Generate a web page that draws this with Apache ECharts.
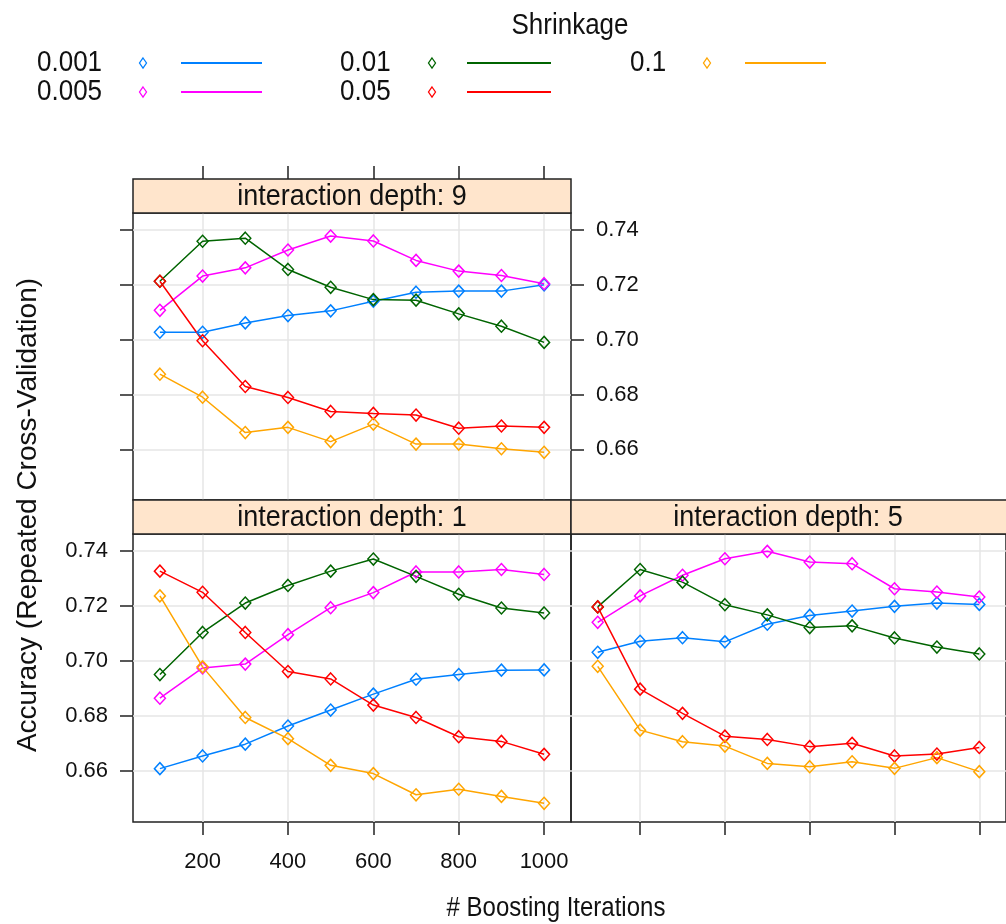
<!DOCTYPE html>
<html>
<head>
<meta charset="utf-8">
<script src="https://cdn.jsdelivr.net/npm/echarts@6.0.0/dist/echarts.min.js"></script>
<style>
  html, body { margin: 0; padding: 0; background: #fff; }
  #chart { width: 1006px; height: 924px; }
</style>
</head>
<body>
<div id="chart"></div>
<script>
// boosting iterations (x) and axis ticks
const iterations = [100, 200, 300, 400, 500, 600, 700, 800, 900, 1000];
const xTicks = [200, 400, 600, 800, 1000];
const yTicks = [0.66, 0.68, 0.70, 0.72, 0.74];

const shrinkage = ['0.001', '0.005', '0.01', '0.05', '0.1'];
const shrinkColors = ['#0080ff', '#ff00ff', '#006400', '#ff0000', '#ffa500'];

// interaction depth: 9
const depth9_0001 = [0.7027, 0.7027, 0.7061, 0.7088, 0.7105, 0.7140, 0.7173, 0.7177, 0.7177, 0.7200];
const depth9_0005 = [0.7107, 0.7232, 0.7262, 0.7327, 0.7378, 0.7360, 0.7289, 0.7250, 0.7234, 0.7204];
const depth9_001  = [0.7213, 0.7359, 0.7370, 0.7256, 0.7191, 0.7146, 0.7144, 0.7094, 0.7049, 0.6990];
const depth9_005  = [0.7213, 0.6996, 0.6829, 0.6789, 0.6738, 0.6731, 0.6725, 0.6677, 0.6685, 0.6680];
const depth9_01   = [0.6874, 0.6790, 0.6661, 0.6680, 0.6628, 0.6692, 0.6619, 0.6619, 0.6602, 0.6589];

// interaction depth: 1
const depth1_0001 = [0.6609, 0.6655, 0.6698, 0.6764, 0.6822, 0.6880, 0.6934, 0.6951, 0.6967, 0.6968];
const depth1_0005 = [0.6865, 0.6975, 0.6989, 0.7096, 0.7194, 0.7249, 0.7324, 0.7324, 0.7333, 0.7315];
const depth1_001  = [0.6951, 0.7104, 0.7211, 0.7275, 0.7327, 0.7371, 0.7308, 0.7243, 0.7193, 0.7175];
const depth1_005  = [0.7327, 0.7250, 0.7104, 0.6962, 0.6935, 0.6840, 0.6795, 0.6725, 0.6708, 0.6661];
const depth1_01   = [0.7237, 0.6979, 0.6795, 0.6718, 0.6621, 0.6591, 0.6514, 0.6534, 0.6508, 0.6483];

// interaction depth: 5
const depth5_0001 = [0.7032, 0.7072, 0.7085, 0.7070, 0.7134, 0.7166, 0.7182, 0.7199, 0.7211, 0.7206];
const depth5_0005 = [0.7141, 0.7237, 0.7312, 0.7372, 0.7399, 0.7360, 0.7354, 0.7263, 0.7251, 0.7233];
const depth5_001  = [0.7197, 0.7333, 0.7287, 0.7205, 0.7168, 0.7122, 0.7128, 0.7084, 0.7051, 0.7026];
const depth5_005  = [0.7197, 0.6898, 0.6810, 0.6727, 0.6715, 0.6689, 0.6701, 0.6655, 0.6662, 0.6686];
const depth5_01   = [0.6981, 0.6749, 0.6707, 0.6691, 0.6628, 0.6616, 0.6634, 0.6610, 0.6649, 0.6598];

const panels = [
  { label: 'interaction depth: 9', values: [depth9_0001, depth9_0005, depth9_001, depth9_005, depth9_01] },
  { label: 'interaction depth: 1', values: [depth1_0001, depth1_0005, depth1_001, depth1_005, depth1_01] },
  { label: 'interaction depth: 5', values: [depth5_0001, depth5_0005, depth5_001, depth5_005, depth5_01] }
];

const font = "'Liberation Sans', Arial, sans-serif";
const xRange = [37, 1063];
const yRange = [0.6415, 0.7462];
const stripH = 34;
const textStretch = 1.12; // the picture's text is a little taller than wide
const boxes = [
  { left: 133, top: 213, width: 438, height: 287 },
  { left: 133, top: 534, width: 438, height: 288 },
  { left: 571, top: 534, width: 438, height: 288 }
];

const tickStyle = { show: true, inside: false, length: 13, lineStyle: { color: '#222', width: 1.5 } };
const gridLine = { show: true, lineStyle: { color: '#e6e6e6', width: 1.5 } };
const tickLabel = { color: '#111', fontFamily: font, fontSize: 22 };

const makeX = (i, extra) => Object.assign({
  type: 'value', gridIndex: i, min: xRange[0], max: xRange[1],
  axisLine: { show: false },
  axisTick: Object.assign({}, tickStyle, { customValues: xTicks }),
  axisLabel: { show: false, customValues: xTicks },
  splitLine: gridLine
}, extra);

const makeY = (i, extra) => Object.assign({
  type: 'value', gridIndex: i, min: yRange[0], max: yRange[1],
  axisLine: { show: false },
  axisTick: Object.assign({}, tickStyle, { customValues: yTicks }),
  axisLabel: { show: false, customValues: yTicks },
  splitLine: gridLine
}, extra);

const xAxes = [
  makeX(0, { position: 'top', offset: stripH }),
  makeX(1, { position: 'bottom', axisLabel: Object.assign({ show: true, customValues: xTicks, margin: 29, formatter: v => String(v) }, tickLabel) }),
  makeX(2, { position: 'bottom' })
];

const yAxes = [
  makeY(0, { position: 'left' }),
  makeY(0, { position: 'right', splitLine: { show: false },
    axisLabel: Object.assign({ show: true, customValues: yTicks, margin: 25, formatter: v => v.toFixed(2) }, tickLabel) }),
  makeY(1, { position: 'left',
    axisLabel: Object.assign({ show: true, customValues: yTicks, margin: 25, formatter: v => v.toFixed(2) }, tickLabel) }),
  makeY(2, { position: 'left', axisTick: { show: false, customValues: yTicks } })
];
const yIndexOfPanel = [0, 2, 3];

const series = [];
panels.forEach((p, i) => {
  p.values.forEach((vals, k) => {
    const col = shrinkColors[k];
    series.push({
      type: 'line',
      name: shrinkage[k],
      xAxisIndex: i,
      yAxisIndex: yIndexOfPanel[i],
      data: iterations.map((it, j) => [it, vals[j]]),
      symbol: 'diamond',
      symbolSize: [11, 12],
      color: col,
      lineStyle: { color: col, width: 1.5 },
      itemStyle: { color: 'rgba(255,255,255,0)', borderColor: col, borderWidth: 1.5 },
      emphasis: { disabled: true },
      silent: true
    });
  });
});

const textEl = (x, y, text, size, align, extra) => Object.assign({
  type: 'text', x: x, y: y, scaleY: textStretch,
  style: { text: text, fontFamily: font, fontSize: size, fill: '#111',
    align: align, verticalAlign: 'middle', textAlign: align, textVerticalAlign: 'middle' }
}, extra);

// strips above each panel
const graphics = [];
boxes.forEach((b, i) => {
  graphics.push({
    type: 'rect', z: 10,
    shape: { x: b.left, y: b.top - stripH, width: b.width, height: stripH },
    style: { fill: '#ffe5cc', stroke: '#222', lineWidth: 1.5 }
  });
  graphics.push(textEl(b.left + b.width / 2 - (i === 2 ? 2 : 0), b.top - stripH / 2 + 1,
    panels[i].label, 27, 'center', { z: 11 }));
});

// key: Shrinkage
const keyCols = [
  { text: 37, mark: 143, line: [181, 262] },
  { text: 340, mark: 432, line: [467, 551] },
  { text: 630, mark: 707, line: [745, 826] }
];
const keyRows = [63, 92];
const keySlots = [[0, 0], [0, 1], [1, 0], [1, 1], [2, 0]];

graphics.push(textEl(570, 26, 'Shrinkage', 26, 'center'));
shrinkage.forEach((s, k) => {
  const c = keyCols[keySlots[k][0]];
  const y = keyRows[keySlots[k][1]];
  const col = shrinkColors[k];
  graphics.push(textEl(c.text, y, s, 26, 'left'));
  graphics.push({
    type: 'polygon',
    shape: { points: [[c.mark, y - 5], [c.mark + 3.5, y], [c.mark, y + 5], [c.mark - 3.5, y]] },
    style: { fill: 'none', stroke: col, lineWidth: 1.3 }
  });
  graphics.push({
    type: 'line',
    shape: { x1: c.line[0], y1: y, x2: c.line[1], y2: y },
    style: { stroke: col, lineWidth: 2 }
  });
});

// axis titles
graphics.push({
  type: 'text', x: 28, y: 515, rotation: Math.PI / 2,
  style: { text: 'Accuracy (Repeated Cross-Validation)', fontFamily: font, fontSize: 28, fill: '#111',
    align: 'center', verticalAlign: 'middle', textAlign: 'center', textVerticalAlign: 'middle' }
});
graphics.push(textEl(556, 909, '# Boosting Iterations', 24, 'center'));

const chart = echarts.init(document.getElementById('chart'));
chart.setOption({
  animation: false,
  backgroundColor: '#fff',
  grid: boxes.map(b => ({
    left: b.left, top: b.top, width: b.width, height: b.height,
    show: true, borderColor: '#222', borderWidth: 1.5, containLabel: false
  })),
  xAxis: xAxes,
  yAxis: yAxes,
  series: series,
  graphic: graphics
});
</script>
</body>
</html>
